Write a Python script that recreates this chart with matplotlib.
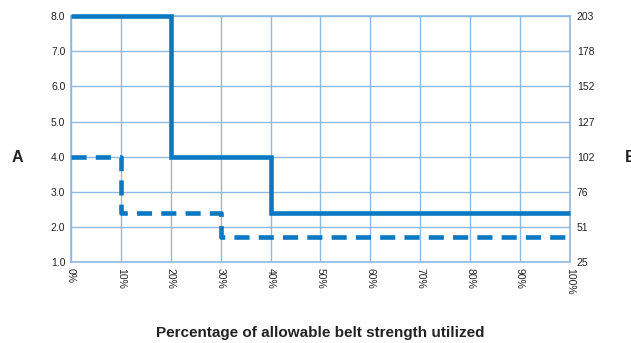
import matplotlib.pyplot as plt
from matplotlib import font_manager

# Daten
pct = [0, 10, 20, 30, 40, 50, 60, 70, 80, 90, 100]
pct_labels = [f"{p}%" for p in pct]
left_ticks = [1.0, 2.0, 3.0, 4.0, 5.0, 6.0, 7.0, 8.0]
right_labels = ["25", "51", "76", "102", "127", "152", "178", "203"]

solid_x = [0, 20, 40, 100]
solid_y = [8.0, 4.0, 2.4, 2.4]
dash_x = [0, 10, 30, 100]
dash_y = [4.0, 2.4, 1.7, 1.7]

line_col = "#0a78c2"
grid_col = "#8fb8e3"

names = {f.name for f in font_manager.fontManager.ttflist}
narrow = "Liberation Sans Narrow" if "Liberation Sans Narrow" in names else "Liberation Sans"

plt.rcParams['font.family'] = ['Liberation Sans', 'DejaVu Sans']

fig = plt.figure(figsize=(6.31, 3.43), dpi=100)
ax = fig.add_axes([0.1125, 0.236, 0.7905, 0.717])

ax.plot(solid_x, solid_y, drawstyle='steps-post', color=line_col, lw=3.3,
        solid_joinstyle='miter', solid_capstyle='butt', zorder=3, clip_on=False)
ax.plot(dash_x, dash_y, drawstyle='steps-post', color=line_col, lw=3.3,
        dashes=(3.3, 2.0), zorder=3)

ax.set_xlim(0, 100)
ax.set_ylim(1, 8)
ax.set_xticks(pct)
ax.set_xticklabels(pct_labels, rotation=-90, fontsize=7.5, color="#222222")
ax.set_yticks(left_ticks)
ax.set_yticklabels([f"{v:.1f}" for v in left_ticks], fontsize=7.5, color="#222222")
ax.grid(True, color=grid_col, lw=1.0)
ax.tick_params(length=0, pad=4)
for s in ax.spines.values():
    s.set_color(grid_col)
    s.set_linewidth(1.2)

ax2 = ax.twinx()
ax2.set_ylim(1, 8)
ax2.set_yticks(left_ticks)
ax2.set_yticklabels(right_labels, fontsize=7.5, color="#222222")
ax2.tick_params(length=0, pad=5)
for s in ax2.spines.values():
    s.set_visible(False)

fig.text(0.027, 0.542, "A", fontsize=11.5, fontweight='bold', family=[narrow, 'DejaVu Sans'],
         ha='center', va='center', color="#222222")
fig.text(0.991, 0.542, "B", fontsize=11.5, fontweight='bold', family=[narrow, 'DejaVu Sans'],
         ha='left', va='center', color="#222222")
fig.text(0.508, 0.03, "Percentage of allowable belt strength utilized", fontsize=11,
         fontweight='bold', family=[narrow, 'DejaVu Sans'], ha='center', va='center',
         color="#222222")

fig.savefig("out.png", dpi=100)
